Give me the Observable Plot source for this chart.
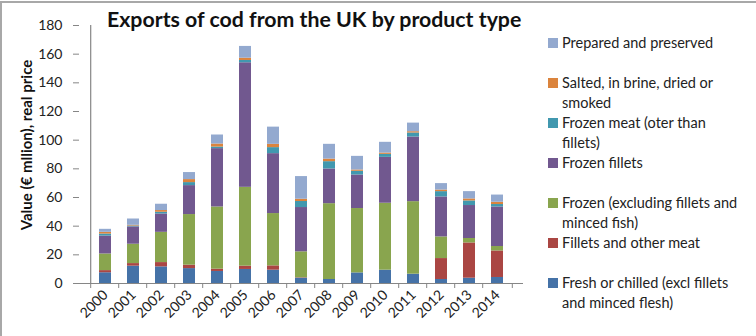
<!DOCTYPE html>
<html>
<head>
<meta charset="utf-8">
<script src="https://cdn.jsdelivr.net/npm/d3@7"></script>
<script src="https://cdn.jsdelivr.net/npm/@observablehq/plot@0.6"></script>
<style>
  body { margin: 0; background: #fff; font-family: Lato, "Open Sans", sans-serif; }
  #wrap { position: relative; width: 756px; height: 336px; overflow: hidden; }
  #border { position: absolute; left: 0; top: 1px; width: 760px; height: 340px; border-left: 2px solid #a8a8a8; border-top: 2px solid #a8a8a8; box-sizing: border-box; }
  #title { position: absolute; left: 107px; top: 6px; font-size: 21.3px; font-weight: bold; color: #111; white-space: nowrap; }
  #ylabel { position: absolute; left: 26px; top: 145px; transform: translate(-50%, -50%) rotate(-90deg); font-size: 15px; font-weight: bold; color: #111; white-space: nowrap; }
  .leg { position: absolute; left: 548px; font-size: 14.5px; color: #222; white-space: nowrap; line-height: 20px; }
  .sw { position: absolute; left: 548px; width: 10px; height: 10px; }
  #plot { position: absolute; left: 0; top: 0; }
</style>
</head>
<body>
<div id="wrap">
  <div id="plot"></div>
  <div id="title">Exports of cod from the UK by product type</div>
  <div id="ylabel">Value (€ mllion), real price</div>
  <div id="legend"></div>
  <div id="border"></div>
</div>
<script>
const years = [2000,2001,2002,2003,2004,2005,2006,2007,2008,2009,2010,2011,2012,2013,2014];
const types = [
  "Fresh or chilled (excl fillets and minced flesh)",
  "Fillets and other meat",
  "Frozen (excluding fillets and minced fish)",
  "Frozen fillets",
  "Frozen meat (oter than fillets)",
  "Salted, in brine, dried or smoked",
  "Prepared and preserved"
];
const colors = ["#4572A7","#AA4643","#89A54E","#71588F","#4198AF","#DB843D","#93A9CF"];
const fresh         = [7.5,12.1,11.6,10.4,8.4,9.8,9.3,3.7,2.8,7.4,9.3,6.5,2.8,3.7,4.2];
const fillets       = [1.5,1.8,3.0,2.4,1.6,2.3,3.0,0.3,0,0,0,0,14.6,24.6,18.5];
const frozen        = [11.6,13.5,21.1,35.3,43.4,55.0,36.5,18.1,52.9,44.9,46.7,50.6,15.1,3.1,3.1];
const frozenFillets = [12.5,12.1,12.8,20.2,40.7,86.9,41.8,30.9,24.2,23.4,32.0,45.1,27.9,23.0,27.6];
const frozenMeat    = [1.4,0.6,1.2,2.1,1.1,1.6,4.2,4.2,5.1,2.6,2.1,2.8,3.7,3.2,1.7];
const salted        = [1.2,0.5,1.2,2.1,2.1,1.6,2.3,1.6,1.8,0.9,0.9,0.9,1.1,1.4,1.6];
const prepared      = [2.1,4.4,4.4,4.9,6.3,8.2,12.0,15.8,10.3,9.5,7.5,6.0,4.5,5.1,5.0];
const series = [fresh, fillets, frozen, frozenFillets, frozenMeat, salted, prepared];
const yTicks = [0,20,40,60,80,100,120,140,160,180];

// legend lines (text split as in reference)
const legendLines = [
  {type: 6, lines: ["Prepared and preserved"], y: 43},
  {type: 5, lines: ["Salted, in brine, dried or", "smoked"], y: 83},
  {type: 4, lines: ["Frozen meat (oter than", "fillets)"], y: 123},
  {type: 3, lines: ["Frozen fillets"], y: 163},
  {type: 2, lines: ["Frozen (excluding fillets and", "minced fish)"], y: 203},
  {type: 1, lines: ["Fillets and other meat"], y: 243},
  {type: 0, lines: ["Fresh or chilled (excl fillets", "and minced flesh)"], y: 283}
];

const data = [];
years.forEach((yr, i) => {
  types.forEach((t, j) => data.push({year: yr, type: t, value: series[j][i]}));
});

const W = 756, H = 336, ML = 79, MR = 233, MT = 25, MB = 53;
const bw = (W - ML - MR) / years.length;

const chart = Plot.plot({
  width: W, height: H,
  marginLeft: ML, marginRight: MR, marginTop: MT, marginBottom: MB,
  style: {fontFamily: "Lato, 'Open Sans', sans-serif", fontSize: "14px", color: "#222", background: "transparent"},
  x: {type: "band", domain: years, padding: 0.57, label: null},
  y: {domain: [0, 180], ticks: yTicks, label: null},
  color: {domain: types, range: colors},
  marks: [
    Plot.barY(data, {x: "year", y: "value", fill: "type", order: types}),
    Plot.ruleY([0], {stroke: "#868686", strokeWidth: 1.2}),
    Plot.ruleX([years[0]], {dx: -bw / 2, y1: 0, y2: 180, stroke: "#868686", strokeWidth: 1.2}),
    Plot.ruleX(years, {dx: -bw / 2, y1: 0, y2: -3.5, stroke: "#868686"}),
    Plot.ruleX([years[years.length - 1]], {dx: bw / 2, y1: 0, y2: -3.5, stroke: "#868686"}),
    Plot.axisY({ticks: yTicks, tickSize: 6, tickPadding: 11, stroke: "#868686", label: null, fill: "#222"}),
    Plot.axisX({tickSize: 0, tickRotate: -45, tickPadding: 9, tickFormat: d => String(d), label: null, fill: "#222"})
  ]
});
document.getElementById("plot").appendChild(chart);

const leg = document.getElementById("legend");
legendLines.forEach(item => {
  const sw = document.createElement("div");
  sw.className = "sw";
  sw.style.top = (item.y - 5) + "px";
  sw.style.background = colors[item.type];
  leg.appendChild(sw);
  item.lines.forEach((ln, k) => {
    const d = document.createElement("div");
    d.className = "leg";
    d.style.left = "562px";
    d.style.top = (item.y - 10 + k * 20) + "px";
    d.textContent = ln;
    leg.appendChild(d);
  });
});
</script>
</body>
</html>
